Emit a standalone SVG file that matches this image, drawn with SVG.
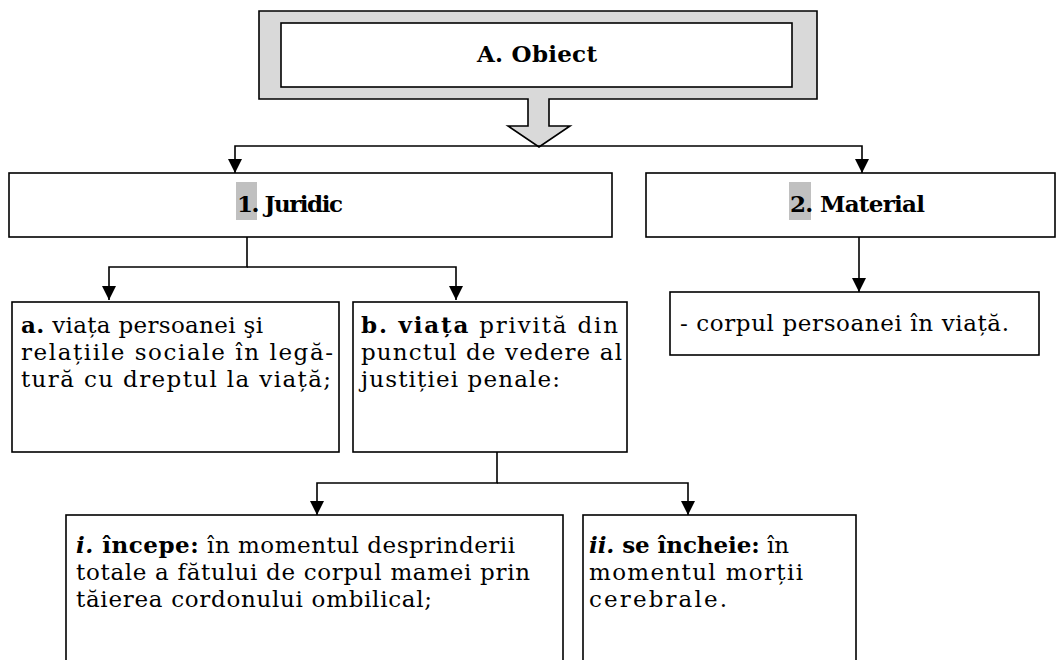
<svg xmlns="http://www.w3.org/2000/svg" width="1057" height="660" viewBox="0 0 1057 660">
<style>
  .box { fill: #ffffff; stroke: #000000; stroke-width: 1.6; }
  .t { font-family: "DejaVu Serif", "Liberation Serif", serif; font-size: 23px; fill: #000000; }
  .h { font-family: "DejaVu Serif", "Liberation Serif", serif; font-size: 23px; font-weight: bold; fill: #000000; }
  .b { font-weight: bold; }
  .bi { font-weight: bold; font-style: italic; }
  .hl { fill: #c0c0c0; }
  .conn { fill: none; stroke: #000000; stroke-width: 1.6; }
</style>
<defs>
  <marker id="arr" markerUnits="userSpaceOnUse" markerWidth="14" markerHeight="14" refX="14" refY="7" orient="auto">
    <path d="M0,0 L14,7 L0,14 Z" fill="#000000"/>
  </marker>
</defs>
<rect width="1057" height="660" fill="#ffffff"/>

<g id="node-obiect">
  <path d="M259,11 H817 V99 H549 V126 H570 L539,147 L508,126 H528 V99 H259 Z" fill="#d9d9d9" stroke="#000000" stroke-width="1.6"/>
  <rect class="box" x="281" y="23" width="511" height="64" stroke-width="2"/>
  <text class="h" x="477" y="62" textLength="120">A. Obiect</text>
</g>

<g id="connectors">
  <path class="conn" d="M539,146 H235 V173" marker-end="url(#arr)"/>
  <path class="conn" d="M539,146 H862 V173" marker-end="url(#arr)"/>
  <path class="conn" d="M247,237 V267 H109 V300" marker-end="url(#arr)"/>
  <path class="conn" d="M247,267 H456 V300" marker-end="url(#arr)"/>
  <path class="conn" d="M859,237 V292" marker-end="url(#arr)"/>
  <path class="conn" d="M497,452 V483 H317 V515" marker-end="url(#arr)"/>
  <path class="conn" d="M497,483 H688 V515" marker-end="url(#arr)"/>
</g>

<g id="node-juridic">
  <rect class="box" x="9" y="173" width="603" height="64"/>
  <rect class="hl" x="236" y="182" width="21" height="38"/>
  <text class="h" x="237" y="212" textLength="106">1. Juridic</text>
</g>

<g id="node-material">
  <rect class="box" x="646" y="173" width="409" height="64"/>
  <rect class="hl" x="789" y="182" width="22" height="38"/>
  <text class="h" x="790" y="212" textLength="135">2. Material</text>
</g>

<g id="node-corpul">
  <rect class="box" x="670" y="292" width="369" height="63"/>
  <text class="t" x="680" y="331" textLength="329">- corpul persoanei în viață.</text>
</g>

<g id="node-a">
  <rect class="box" x="12" y="302" width="327" height="150"/>
  <text class="t" x="21" y="333" textLength="242"><tspan class="b">a.</tspan> viața persoanei şi</text>
  <text class="t" x="21" y="360" textLength="312">relațiile sociale în legă-</text>
  <text class="t" x="21" y="387" textLength="310">tură cu dreptul la viață;</text>
</g>

<g id="node-b">
  <rect class="box" x="353" y="302" width="274" height="150"/>
  <text class="t" x="361" y="333" textLength="257"><tspan class="b">b. viața</tspan> privită din</text>
  <text class="t" x="361" y="360" textLength="261">punctul de vedere al</text>
  <text class="t" x="361" y="387" textLength="199">justiției penale:</text>
</g>

<g id="node-i">
  <rect class="box" x="66" y="515" width="497" height="170"/>
  <text class="t" x="76" y="553" textLength="439"><tspan class="bi">i.</tspan><tspan class="b"> începe:</tspan> în momentul desprinderii</text>
  <text class="t" x="76" y="580" textLength="454">totale a fătului de corpul mamei prin</text>
  <text class="t" x="76" y="607" textLength="356">tăierea cordonului ombilical;</text>
</g>

<g id="node-ii">
  <rect class="box" x="583" y="515" width="273" height="170"/>
  <text class="t" x="589" y="553" textLength="200"><tspan class="bi">ii.</tspan><tspan class="b"> se încheie:</tspan> în</text>
  <text class="t" x="589" y="580" textLength="214">momentul morții</text>
  <text class="t" x="589" y="607" textLength="138">cerebrale.</text>
</g>
</svg>
